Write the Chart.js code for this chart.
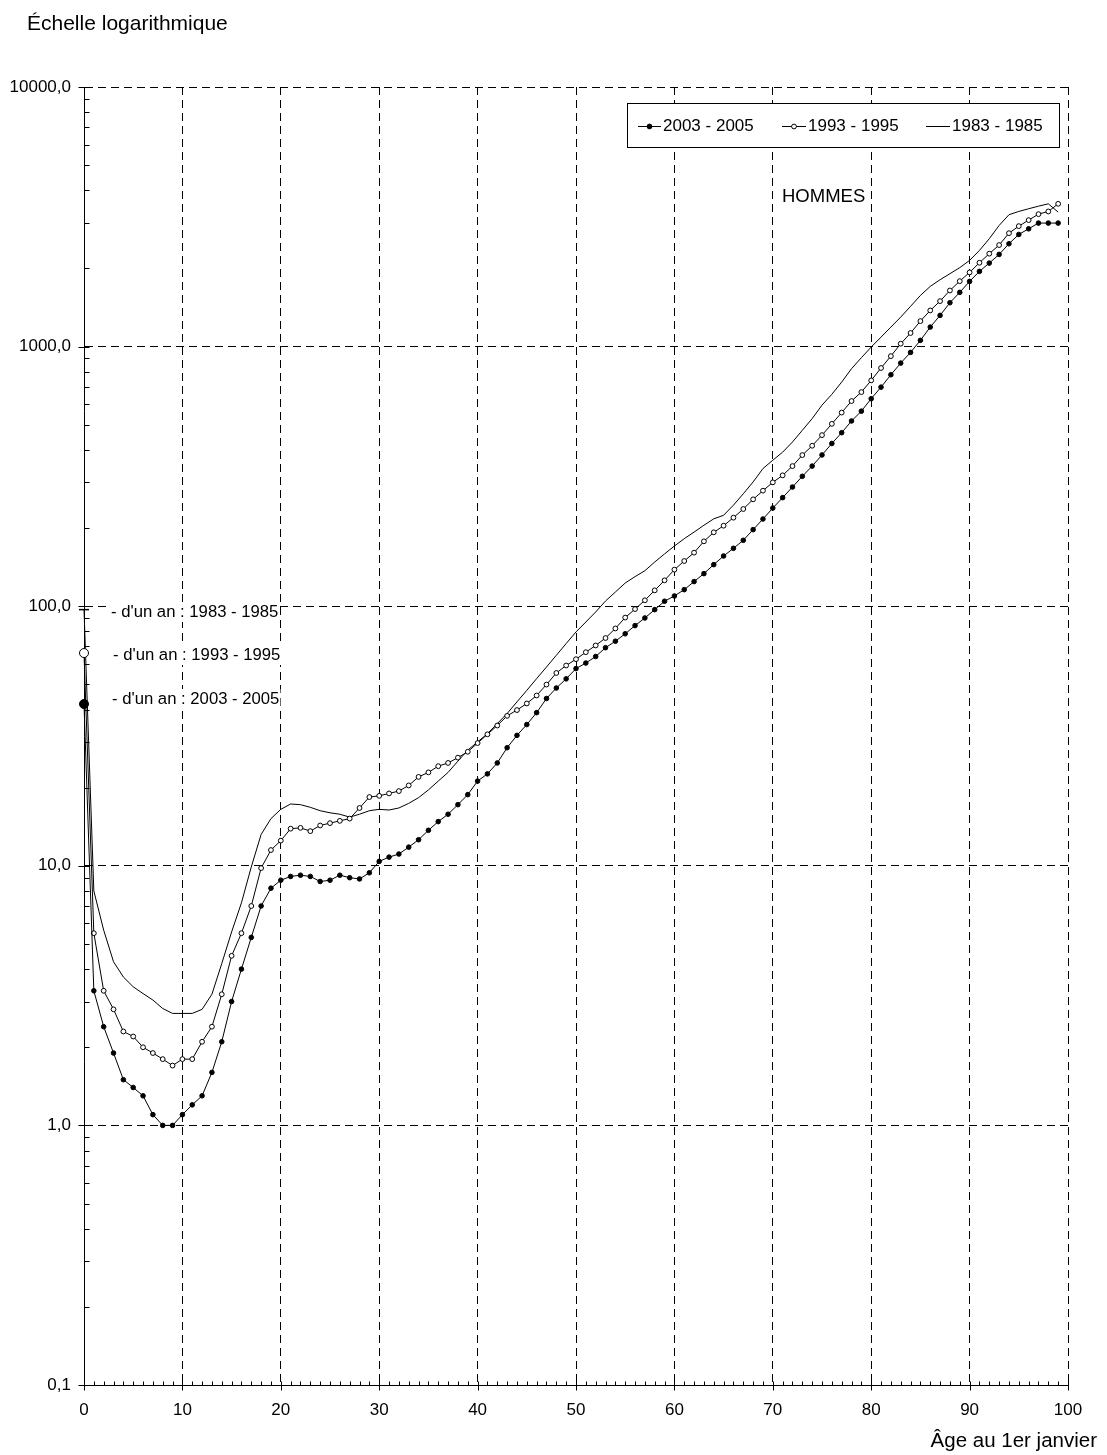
<!DOCTYPE html>
<html>
<head>
<meta charset="utf-8">
<script src="https://cdn.jsdelivr.net/npm/chart.js@4.4.0/dist/chart.umd.min.js"></script>
<style>
  html, body { margin: 0; padding: 0; background: #fff; }
  #wrap { width: 1107px; height: 1455px; position: relative; }
</style>
</head>
<body>
<div id="wrap"><canvas id="c" width="1107" height="1455"></canvas></div>
<script>
// ---- DATA ----
const ages = [0,1,2,3,4,5,6,7,8,9,10,11,12,13,14,15,16,17,18,19,20,21,22,23,24,25,26,27,28,29,
  30,31,32,33,34,35,36,37,38,39,40,41,42,43,44,45,46,47,48,49,50,51,52,53,54,55,56,57,58,59,
  60,61,62,63,64,65,66,67,68,69,70,71,72,73,74,75,76,77,78,79,80,81,82,83,84,85,86,87,88,89,
  90,91,92,93,94,95,96,97,98,99];

const seriesLabels = ["2003 - 2005", "1993 - 1995", "1983 - 1985"];

const values2003 = [42,3.3,2.4,1.9,1.5,1.4,1.3,1.1,1.0,1.0,
  1.1,1.2,1.3,1.6,2.1,3.0,4.0,5.3,7.0,8.2,
  8.8,9.1,9.2,9.1,8.7,8.8,9.2,9.0,8.9,9.4,
  10.4,10.8,11.1,11.8,12.6,13.7,14.8,15.8,17.2,18.8,
  21.2,22.6,24.9,28.5,31.8,35.0,38.9,44.1,48.4,52.5,
  57.5,60.4,64,69.2,73.3,78.3,84.2,90.1,97,104.5,
  109.5,115.8,124.4,133.5,144.6,156.1,167.1,179.4,197.2,216.7,
  238.8,261.9,287.8,316.5,346.5,382.5,423.5,466,517,564,
  630,698,779,864,950,1057,1189,1319,1476,1618,
  1783,1949,2097,2265,2490,2704,2843,2991,2991,2991];

const values1993 = [66,5.5,3.3,2.8,2.3,2.2,2.0,1.9,1.8,1.7,
  1.8,1.8,2.1,2.4,3.2,4.5,5.5,7.0,9.8,11.5,
  12.5,13.9,14.0,13.6,14.3,14.6,14.9,15.2,16.7,18.4,
  18.6,19.0,19.4,20.4,22.0,22.9,24.2,24.9,26.1,27.5,
  29.7,32.1,34.7,37.8,39.8,42.2,45.3,49.9,55.3,59.1,
  62.5,66.5,70.6,75.4,82.1,90.4,97.5,105.4,115.1,125.8,
  138.3,149.3,160.8,177.8,192.6,204.2,219.3,236.8,258,278.6,
  300,319.2,346.5,382,415,456,504,557,617,668,
  741,827,919,1026,1128,1254,1378,1497,1645,1787,
  1931,2104,2280,2461,2735,2911,3070,3238,3316,3548];

const values1983 = [97,8.0,5.65,4.27,3.73,3.42,3.22,3.04,2.82,2.70,
  2.70,2.70,2.80,3.20,4.2,5.56,7.2,9.9,13.2,15.2,
  16.5,17.3,17.2,16.8,16.3,16.0,15.8,15.4,15.8,16.3,
  16.5,16.4,16.7,17.4,18.3,19.6,21.2,22.9,25.3,27.9,
  30.0,32.3,35.3,38.6,42.8,47.4,52.6,58.3,64.7,71.8,
  79.6,86.9,95,104.7,113.4,122.8,130,137,148,159,
  170.5,182,193,205,217,224,245,271,301,339,
  365,392,429,476,528,595,655,730,822,906,
  996,1088,1189,1299,1429,1574,1706,1810,1909,2014,
  2148,2346,2603,2929,3221,3316,3396,3475,3548,3297];

const yTickValues = [0.1, 1, 10, 100, 1000, 10000];
const xTickStep = 10;

const titleText = "Échelle logarithmique";
const xAxisTitle = "Âge au 1er janvier";
const panelLabel = "HOMMES";
const infantLabels = ["- d'un an : 1983 - 1985", "- d'un an : 1993 - 1995", "- d'un an : 2003 - 2005"];

// ---- CHART ----
const FONT = "'Liberation Sans', Arial, Helvetica, sans-serif";

function pts(vals) { return ages.map((a, i) => ({x: a, y: vals[i]})); }

const bgPlugin = {
  id: 'bg',
  beforeDraw(chart) {
    const ctx = chart.ctx;
    ctx.save();
    ctx.fillStyle = '#fff';
    ctx.fillRect(0, 0, chart.width, chart.height);
    ctx.restore();
  }
};

const tickPlugin = {
  id: 'minorTicks',
  afterDraw(chart) {
    const ctx = chart.ctx;
    const xs = chart.scales.x, ys = chart.scales.y;
    const area = chart.chartArea;
    ctx.save();
    ctx.strokeStyle = '#000';
    ctx.lineWidth = 1;
    ctx.setLineDash([]);
    ctx.beginPath();
    for (let a = 0; a <= 100; a++) {
      const px = Math.round(xs.getPixelForValue(a)) + 0.5;
      const by = Math.round(area.bottom) + 0.5;
      if (a % 10 === 0) { ctx.moveTo(px, by - 4); ctx.lineTo(px, by + 5); }
      else { ctx.moveTo(px, by - 4); ctx.lineTo(px, by); }
    }
    const lx = Math.round(area.left) + 0.5;
    for (let d = -1; d <= 4; d++) {
      for (let m = 1; m <= 9; m++) {
        const v = m * Math.pow(10, d);
        if (v > 10000) break;
        const py = Math.round(ys.getPixelForValue(v)) + 0.5;
        if (m === 1) { ctx.moveTo(lx - 6, py); ctx.lineTo(lx + 5, py); }
        else { ctx.moveTo(lx, py); ctx.lineTo(lx + 5, py); }
      }
    }
    ctx.stroke();
    ctx.restore();
  }
};

const textPlugin = {
  id: 'texts',
  afterDraw(chart) {
    const ctx = chart.ctx;
    ctx.save();
    ctx.fillStyle = '#000';
    ctx.textBaseline = 'middle';
    ctx.font = '21px ' + FONT;
    ctx.textAlign = 'left';
    ctx.fillText(titleText, 27, 24);
    ctx.font = '20.5px ' + FONT;
    ctx.textAlign = 'right';
    ctx.fillText(xAxisTitle, 1097, 1441);
    ctx.font = '18.5px ' + FONT;
    ctx.textAlign = 'left';
    ctx.fillText(panelLabel, 782, 197);
    ctx.font = '16.7px ' + FONT;
    const annY = [612, 655, 699];
    const annX = [111, 113, 112];
    infantLabels.forEach((t, i) => {
      const w = ctx.measureText(t).width;
      ctx.fillStyle = '#fff';
      ctx.fillRect(annX[i] - 2, annY[i] - 10, w + 3, 20);
      ctx.fillStyle = '#000';
      ctx.fillText(t, annX[i], annY[i]);
    });
    const bx = 627, by = 103, bw = 432, bh = 44;
    ctx.fillStyle = '#fff';
    ctx.fillRect(bx, by, bw, bh);
    ctx.strokeStyle = '#000';
    ctx.lineWidth = 1;
    ctx.strokeRect(bx + 0.5, by + 0.5, bw, bh);
    const ly = 126;
    const items = [
      {x1: 638, x2: 661, tx: 663, marker: 'filled'},
      {x1: 782, x2: 806, tx: 808, marker: 'open'},
      {x1: 926, x2: 950, tx: 952, marker: 'none'}
    ];
    ctx.font = '17px ' + FONT;
    items.forEach((it, i) => {
      ctx.beginPath();
      ctx.moveTo(it.x1, ly + 0.5); ctx.lineTo(it.x2, ly + 0.5);
      ctx.stroke();
      const cx = (it.x1 + it.x2) / 2;
      if (it.marker !== 'none') {
        ctx.beginPath();
        ctx.arc(cx, ly + 0.5, 2.4, 0, Math.PI * 2);
        ctx.fillStyle = it.marker === 'filled' ? '#000' : '#fff';
        ctx.fill();
        ctx.stroke();
      }
      ctx.fillStyle = '#000';
      ctx.textAlign = 'left';
      ctx.fillText(seriesLabels[i], it.tx, ly);
    });
    ctx.restore();
  }
};

new Chart(document.getElementById('c'), {
  type: 'line',
  data: {
    datasets: [
      {
        label: seriesLabels[0],
        data: pts(values2003),
        borderColor: '#000', borderWidth: 1,
        pointRadius: ages.map(a => a === 0 ? 4.5 : 2.3),
        pointBackgroundColor: '#000', pointBorderColor: '#000', pointBorderWidth: 1,
        tension: 0, clip: false, order: 1
      },
      {
        label: seriesLabels[1],
        data: pts(values1993),
        borderColor: '#000', borderWidth: 1,
        pointRadius: ages.map(a => a === 0 ? 4.5 : 2.4),
        pointBackgroundColor: '#fff', pointBorderColor: '#000', pointBorderWidth: 1,
        tension: 0, clip: false, order: 2
      },
      {
        label: seriesLabels[2],
        data: pts(values1983),
        borderColor: '#000', borderWidth: 1,
        pointRadius: ages.map(a => a === 0 ? 5 : 0),
        pointStyle: 'line',
        pointBorderColor: '#000', pointBorderWidth: 1.5,
        tension: 0, clip: false, order: 3
      }
    ]
  },
  options: {
    responsive: false,
    animation: false,
    events: [],
    layout: { padding: { left: 0, top: 87, right: 39, bottom: 0 } },
    plugins: { legend: { display: false }, tooltip: { enabled: false } },
    scales: {
      x: {
        type: 'linear', min: 0, max: 100,
        ticks: { stepSize: xTickStep, color: '#000', font: { family: FONT, size: 17 }, padding: 15, maxRotation: 0 },
        grid: { color: '#000', lineWidth: 1, drawTicks: false },
        border: { display: true, color: '#000', width: 1, dash: [8, 5] },
        afterFit(s) { s.height = 70; }
      },
      y: {
        type: 'logarithmic', min: 0.1, max: 10000,
        afterBuildTicks(s) { s.ticks = yTickValues.map(v => ({value: v})); },
        ticks: {
          color: '#000', font: { family: FONT, size: 17 }, padding: 13,
          callback: v => Number(v).toFixed(1).replace('.', ',')
        },
        grid: { color: '#000', lineWidth: 1, drawTicks: false },
        border: { display: true, color: '#000', width: 1, dash: [8, 5] },
        afterFit(s) { s.width = 84; }
      }
    }
  },
  plugins: [bgPlugin, tickPlugin, textPlugin]
});
</script>
</body>
</html>
